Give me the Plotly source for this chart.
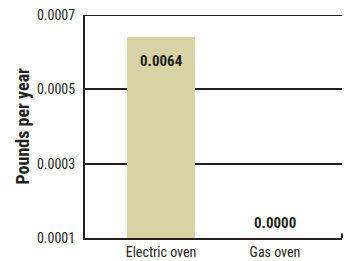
import plotly.graph_objects as go

categories = ["Electric oven", "Gas oven"]
values = [0.00064, 0.0]
value_labels = ["0.0064", "0.0000"]
tick_vals = [0.0001, 0.0003, 0.0005, 0.0007]
tick_text = ["0.0001", "0.0003", "0.0005", "0.0007"]

FONT = "Liberation Sans Narrow, Arial Narrow, Roboto Condensed, Liberation Sans, Arial, sans-serif"
DARK = "#231f20"
ymin, ymax = 0.0001, 0.0007

fig = go.Figure()
fig.add_trace(go.Bar(
    x=[0, 1], y=values, marker=dict(color="#d8d3a5", line=dict(width=0)),
    width=0.6, showlegend=False, base=0, hoverinfo="skip",
))

for i, (v, lab) in enumerate(zip(values, value_labels)):
    if v > ymin:
        fig.add_annotation(x=i, y=v, text="<b>" + lab + "</b>", showarrow=False,
                           yanchor="top", yshift=-13, font=dict(size=15, color=DARK, family=FONT))
    else:
        fig.add_annotation(x=i, y=ymin, text="<b>" + lab + "</b>", showarrow=False,
                           yanchor="bottom", yshift=4, font=dict(size=15, color=DARK, family=FONT))

# top line at axis maximum
fig.add_shape(type="line", xref="paper", yref="y", x0=0, x1=1, y0=ymax, y1=ymax,
              line=dict(color=DARK, width=2), layer="below")
# small upward tick at right end of baseline
fig.add_shape(type="line", xref="paper", yref="paper", x0=1, x1=1, y0=0, y1=0.02,
              line=dict(color=DARK, width=2))

fig.add_annotation(xref="paper", yref="paper", x=-0.245, y=0.5, textangle=-90,
                   text="<b>Pounds per year</b>", showarrow=False, xanchor="center",
                   yanchor="middle", font=dict(size=18, color=DARK, family=FONT))

fig.update_layout(
    width=349, height=261,
    margin=dict(l=85, r=7, t=15, b=23),
    paper_bgcolor="white", plot_bgcolor="white",
    bargap=0,
    xaxis=dict(range=[-0.667, 1.588], tickvals=[0, 1], ticktext=categories,
               showgrid=False, zeroline=False, showline=True, linecolor=DARK, linewidth=2,
               ticks="", automargin=False, tickfont=dict(size=14, color=DARK, family=FONT)),
    yaxis=dict(range=[ymin, ymax], tickvals=tick_vals, ticktext=tick_text,
               showgrid=True, gridcolor=DARK, gridwidth=2, zeroline=False,
               showline=True, linecolor=DARK, linewidth=2, ticks="",
               ticklabelstandoff=5, automargin=False,
               tickfont=dict(size=14, color=DARK, family=FONT)),
)
fig.write_html("out.html", config={"displayModeBar": False},
               post_script="document.body.style.margin='0';document.body.style.padding='0';")
